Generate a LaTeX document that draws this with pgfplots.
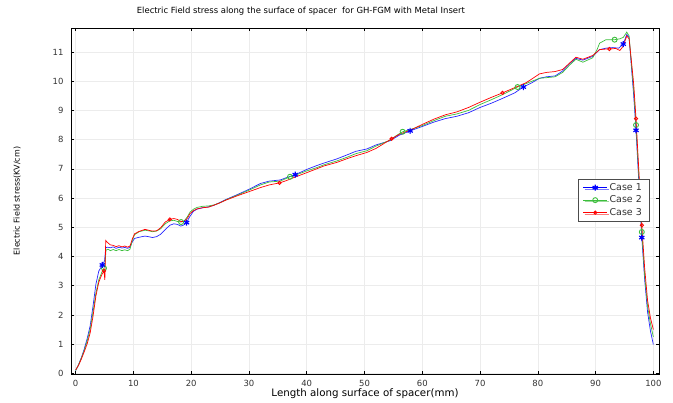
\documentclass[border=0pt]{standalone}
\usepackage{fontspec}
\setmainfont{DejaVu Sans}
\usepackage{pgfplots}
\pgfplotsset{compat=1.18}
\usetikzlibrary{shadows}
\definecolor{cblue}{RGB}{0,0,255}
\definecolor{cgreen}{RGB}{60,190,60}
\definecolor{cred}{RGB}{255,0,0}
\begin{document}
\begin{tikzpicture}
\path[use as bounding box] (-71bp,-29bp) rectangle (602bp,374bp);
\begin{axis}[
  at={(0,0)}, anchor=south west,
  scale only axis, width=588bp, height=346bp,
  xmin=-0.81, xmax=100.98, ymin=-0.02, ymax=11.82,
  xtick={0,10,...,100}, ytick={0,1,...,11},
  grid=major, major grid style={gray!15, line width=0.6bp},
  tick pos=both, tick align=inside, major tick length=3.5bp,
  tick style={black, line width=0.5bp},
  axis line style={black, line width=0.8bp},
  /pgf/number format/assume math mode=true,
  ticklabel style={font=\fontsize{8.5}{10}\selectfont, text=black!80},
  xticklabel style={inner sep=0pt, yshift=-6.5bp},
  yticklabel style={xshift=-4bp},
  title={Electric Field stress along the surface of spacer\ \ for GH-FGM with Metal Insert},
  title style={at={(0.391,1)}, anchor=center, yshift=11bp, font=\fontsize{8.5}{10}\selectfont},
  xlabel={Length along surface of spacer(mm)},
  xlabel style={at={(0.5,0)}, anchor=center, inner sep=0pt, yshift=-19.5bp, font=\fontsize{10.3}{12}\selectfont},
  ylabel={Electric Field stress(KV/cm)},
  ylabel style={at={(0,0.5)}, anchor=center, yshift=54bp, font=\fontsize{8}{10}\selectfont},
  legend style={at={(0.983,0.563)}, anchor=north east, draw=black!70, fill=white,
    font=\fontsize{9.5}{11}\selectfont, text=black!80, drop shadow={shadow xshift=1.5bp, shadow yshift=-1.5bp, fill=gray!70},
    inner xsep=5bp, inner ysep=2bp, row sep=0bp, legend cell align=left},
  legend image code/.code={\draw[#1, mark repeat=2, mark phase=2] plot coordinates {(0bp,0bp) (12bp,0bp) (24bp,0bp)};},
]
\addlegendimage{cblue, line width=0.8bp, mark=asterisk, mark size=3bp, mark options={line width=1.2bp}}
\addlegendentry{Case 1}
\addlegendimage{cgreen, line width=0.8bp, mark=o, mark size=2.5bp, mark options={line width=0.9bp}}
\addlegendentry{Case 2}
\addlegendimage{cred, line width=0.8bp, mark=o, mark size=1.6bp, mark options={line width=0.9bp}}
\addlegendentry{Case 3}

% Case 1 line
\addplot[cblue!85, line width=0.7bp, forget plot] coordinates {
(0,0.1)(0.5,0.3)(1,0.55)(1.5,0.85)(2,1.2)(2.5,1.62)(3,2.3)(3.5,3.05)(4,3.5)(4.6,3.71)(5.0,3.85)(5.2,4.3)
(5.5,4.32)(6,4.3)(6.5,4.33)(7,4.28)(7.5,4.32)(8,4.29)(8.5,4.31)(9,4.28)(9.4,4.32)(9.8,4.5)(10.2,4.62)
(11,4.66)(12,4.7)(12.6,4.68)(13.3,4.65)(14,4.68)(14.7,4.76)(15.5,4.92)(16.3,5.07)(17,5.12)(17.6,5.1)
(18.2,5.04)(18.7,5.08)(19.2,5.16)(19.7,5.35)(20.4,5.55)(21,5.62)(22,5.67)(23,5.7)(24,5.76)(25,5.85)
(26,5.95)(28,6.12)(30,6.3)(32,6.5)(33.5,6.58)(35.4,6.62)(36.5,6.7)(38,6.8)(40,6.98)(41.7,7.11)(43,7.2)
(45.2,7.34)(47,7.48)(48.5,7.6)(50.4,7.68)(52,7.82)(54.4,7.96)(56,8.15)(57.9,8.3)(60,8.45)(62,8.6)
(64,8.72)(66,8.8)(68,8.92)(70,9.1)(72,9.25)(74,9.42)(76,9.6)(77.5,9.8)(79,9.95)(80.3,10.1)(81.5,10.15)
(83,10.18)(84.3,10.35)(85.5,10.6)(86.6,10.78)(87.8,10.72)(89.5,10.85)(90.7,11.08)(91.8,11.13)(93,11.15)
(94,11.13)(94.8,11.27)(95.4,11.6)(95.8,11.5)(96.2,10.5)(96.6,9.5)(97.0,8.32)(97.5,6.5)(98.0,4.65)
(98.5,3.2)(99,2.1)(99.5,1.45)(100,0.99)};
% Case 2 line
\addplot[cgreen, line width=0.7bp, forget plot] coordinates {
(0,0.1)(0.5,0.3)(1,0.53)(1.5,0.8)(2,1.12)(2.5,1.5)(3,2.1)(3.5,2.75)(4,3.2)(4.5,3.45)(4.9,3.6)(5.1,3.8)
(5.25,4.22)(5.6,4.25)(6,4.2)(6.5,4.24)(7,4.2)(7.5,4.24)(8,4.2)(8.5,4.23)(9,4.2)(9.4,4.25)(9.8,4.55)
(10.2,4.75)(11,4.85)(12,4.9)(12.6,4.88)(13.3,4.85)(14,4.87)(14.7,4.95)(15.5,5.12)(16.3,5.22)(17,5.24)
(17.6,5.2)(18.25,5.18)(18.8,5.22)(19.3,5.35)(19.8,5.52)(20.4,5.62)(21,5.68)(22,5.72)(23,5.73)(24,5.77)
(25,5.84)(26,5.94)(28,6.1)(30,6.27)(32,6.45)(33.5,6.55)(35.4,6.58)(36.2,6.65)(37.1,6.73)(38,6.78)
(40,6.93)(41.7,7.04)(43,7.14)(45.2,7.27)(47,7.4)(48.5,7.52)(50.4,7.62)(52,7.78)(54.4,7.98)(55.6,8.15)
(56.6,8.27)(58,8.35)(60,8.48)(62,8.65)(64,8.8)(66,8.88)(68,9.0)(70,9.2)(72,9.37)(74,9.55)(76.5,9.8)
(78,9.92)(79,10.0)(80.3,10.1)(81.5,10.12)(83,10.15)(84.3,10.3)(85.5,10.55)(86.6,10.75)(87.8,10.65)
(89.5,10.8)(90.3,11.1)(90.7,11.3)(91.8,11.42)(93.3,11.42)(94.2,11.45)(94.8,11.5)(95.4,11.68)(95.8,11.55)
(96.2,10.6)(96.6,9.7)(97.0,8.5)(97.5,6.7)(98.0,4.84)(98.5,3.35)(99,2.3)(99.5,1.7)(100,1.25)};
% Case 3 line
\addplot[cred, line width=0.7bp, forget plot] coordinates {
(0,0.12)(0.5,0.28)(1,0.5)(1.5,0.75)(2,1.02)(2.5,1.38)(3,1.95)(3.5,2.65)(4,3.12)(4.5,3.37)(4.9,3.51)
(5.05,3.2)(5.2,4.55)(5.5,4.48)(6,4.4)(6.5,4.38)(7,4.34)(7.5,4.37)(8,4.33)(8.5,4.36)(9,4.32)(9.4,4.36)
(9.8,4.6)(10.2,4.78)(11,4.86)(12,4.93)(12.6,4.9)(13.3,4.87)(14,4.88)(14.7,4.98)(15.5,5.18)(16.3,5.27)
(17,5.3)(17.6,5.27)(18.2,5.2)(18.8,5.2)(19.3,5.3)(19.8,5.47)(20.4,5.57)(21,5.63)(22,5.67)(23,5.69)
(24,5.76)(25,5.84)(26,5.93)(28,6.08)(30,6.22)(32,6.36)(33.5,6.45)(35.3,6.52)(36.5,6.6)(38,6.72)(40,6.87)
(41.7,7.0)(43,7.1)(45.2,7.22)(47,7.35)(48.5,7.45)(50.4,7.56)(52,7.7)(54.7,8.03)(56,8.18)(58,8.33)
(60,8.52)(62,8.7)(64,8.85)(66,8.95)(68,9.1)(70,9.28)(72,9.45)(73.9,9.6)(76,9.78)(78,9.95)(80.3,10.25)
(81.5,10.3)(83,10.33)(84.3,10.4)(85.5,10.62)(86.6,10.82)(87.8,10.75)(89.5,10.88)(90.7,11.08)(91.8,11.1)
(92.4,11.1)(93.5,11.12)(94.2,11.05)(94.8,11.2)(95.4,11.55)(95.8,11.45)(96.2,10.7)(96.6,9.9)(97.0,8.72)
(97.5,6.9)(98.0,5.07)(98.5,3.6)(99,2.5)(99.5,1.9)(100,1.5)};

% markers
\addplot[cgreen, only marks, mark=o, mark size=2.5bp, mark options={line width=0.9bp}, forget plot] coordinates {
(4.9,3.6)(18.25,5.18)(37.1,6.73)(56.6,8.27)(76.5,9.8)(93.3,11.42)(97.0,8.5)(98.0,4.84)};
\addplot[cred, only marks, mark=o, mark size=1.6bp, mark options={line width=0.9bp}, forget plot] coordinates {
(4.9,3.51)(16.3,5.27)(35.3,6.52)(54.7,8.03)(73.9,9.6)(92.4,11.1)(97.0,8.72)(98.0,5.07)};
\addplot[cblue, only marks, mark=asterisk, mark size=3bp, mark options={line width=1.2bp}, forget plot] coordinates {
(4.6,3.71)(19.2,5.16)(38.0,6.8)(57.9,8.3)(77.5,9.8)(94.8,11.27)(97.0,8.32)(98.0,4.65)};
\end{axis}
\end{tikzpicture}
\end{document}
